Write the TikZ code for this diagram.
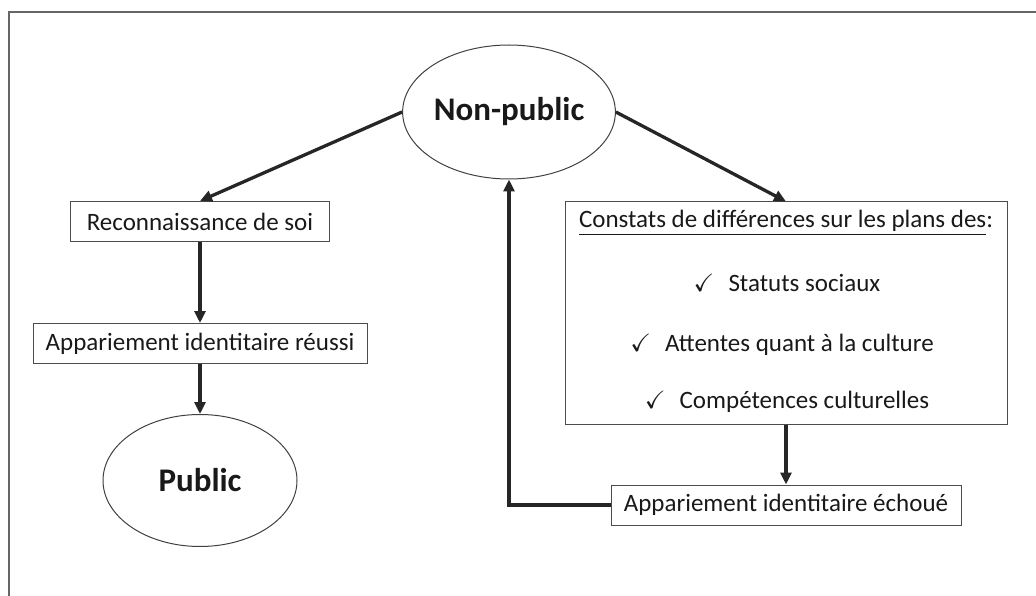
\documentclass[tikz,border=0pt]{standalone}
\usepackage{amssymb}
\usepackage{fontspec}
\setmainfont{Carlito}
\usetikzlibrary{positioning, arrows.meta, shapes.geometric}

\begin{document}
\begin{tikzpicture}[
    x=1pt, y=-1pt, % pixel units, y grows downwards
    node distance=81pt,
    every node/.style={font=\fontsize{25}{30}\selectfont, text=black!90},
    box/.style={draw=black!70, line width=1pt, minimum height=40pt, inner sep=0pt},
    bubble/.style={ellipse, draw=black!75, line width=1pt, inner sep=0pt,
                   font=\fontsize{33}{40}\selectfont\bfseries},
    arr/.style={-{Triangle[length=12pt,width=11pt]}, line width=3.3pt, draw=black!85}
]
    \useasboundingbox (0,0) rectangle (1036,596);
    % frame (top and left only)
    \draw[black!60, line width=1.5pt] (1036,12) -- (9,12) -- (9,596);

    % Place the nodes
    \node[bubble, minimum width=194pt, minimum height=134pt] (np) at (509,112) {Non-public};
    \node[box, minimum width=259pt] (recon) at (200,221.5) {Reconnaissance de soi};
    \node[box, minimum width=334pt, below=81pt of recon] (reussi) {Appariement identitaire réussi};
    \node[bubble, minimum width=194pt, minimum height=132pt, below=50pt of reussi] (public) {Public};

    \node[box, minimum width=442pt, minimum height=222pt] (diff) at (786,313) {};
    \node (head) at (786,223) {\underline{Constats de différences sur les plans des}:};
    \node (statut) at (787,283) {\checkmark\hspace{14pt}Statuts sociaux};
    \node (attente) at (782,345) {\checkmark\hspace{14pt}Attentes quant à la culture};
    \node (compet) at (787,402) {\checkmark\hspace{14pt}Compétences culturelles};
    \node[box, minimum width=350pt, below=60pt of diff] (echoue) {Appariement identitaire échoué};

    % Draw the edges
    \draw[arr] (np.west) -- (recon.north);
    \draw[arr] (np.east) -- (diff.north);
    \draw[arr] (recon.south) -- (reussi.north);
    \draw[arr] (reussi.south) -- (public.north);
    \draw[arr] (diff.south) -- (echoue.north);
    \draw[arr] (echoue.west) -| (np.south);
\end{tikzpicture}
\end{document}
